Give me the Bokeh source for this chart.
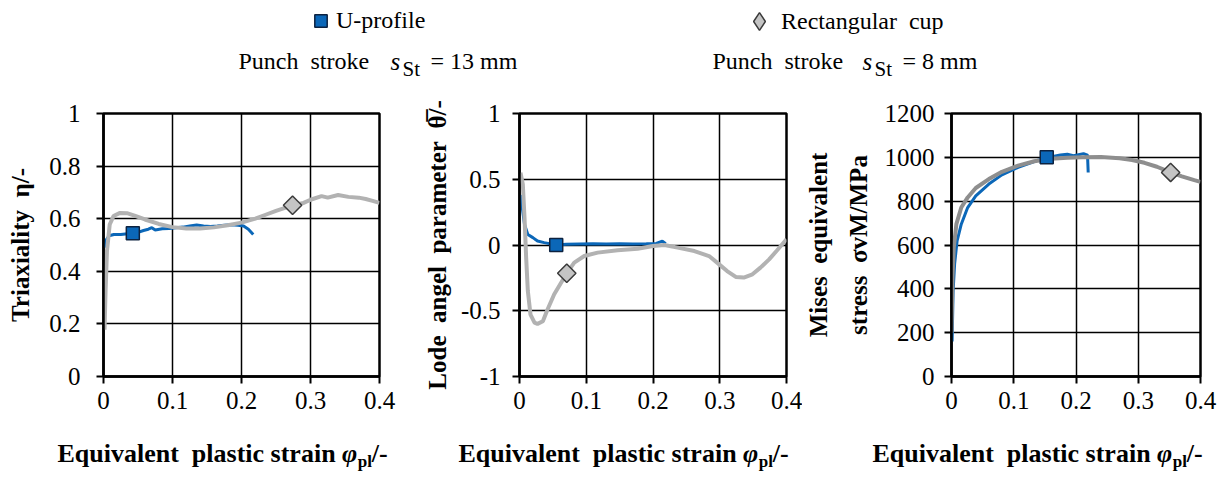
import math
from bokeh.plotting import figure
from bokeh.models import Range1d, FixedTicker, Label, Legend, LegendItem
from bokeh.layouts import column, row
from bokeh.embed import file_html
from bokeh.resources import INLINE

FONT = "Liberation Serif"
BLUE = "#0B67B8"
BLUE_EDGE = "#0D2240"
GRAY = "#B2B2B2"
GRAY_DARK = "#8E8E8E"
GRAY_FILL = "#C4C4C4"
GRAY_EDGE = "#3A3A3A"
NB = "\u00a0"

# ---------------- data ----------------
series_names = ["U-profile", "Rectangular" + NB + NB + "cup"]

x_ticks = [0, 0.1, 0.2, 0.3, 0.4]
x_tick_labels = ["0", "0.1", "0.2", "0.3", "0.4"]
eta_ticks = [0, 0.2, 0.4, 0.6, 0.8, 1]
eta_tick_labels = ["0", "0.2", "0.4", "0.6", "0.8", "1"]
lode_ticks = [-1, -0.5, 0, 0.5, 1]
lode_tick_labels = ["-1", "-0.5", "0", "0.5", "1"]
mises_ticks = [0, 200, 400, 600, 800, 1000, 1200]
mises_tick_labels = ["0", "200", "400", "600", "800", "1000", "1200"]

y_titles = ["Triaxiality" + NB + NB + "η/-",
            "Lode" + NB + NB + "angel" + NB + NB + "parameter" + NB + NB + "θ\u0305/-",
            "Mises" + NB + NB + "equivalent\nstress" + NB + NB + "σvM/MPa"]

# Triaxiality
u_eta_x = [0.002, 0.004, 0.008, 0.015, 0.025, 0.035, 0.0425, 0.05, 0.058, 0.065, 0.07, 0.075,
           0.085, 0.095, 0.105, 0.115, 0.125, 0.135, 0.145, 0.155, 0.165, 0.175, 0.185, 0.195,
           0.203, 0.21, 0.217]
u_eta_y = [0.49, 0.52, 0.535, 0.54, 0.54, 0.543, 0.545, 0.548, 0.555, 0.56, 0.566, 0.557,
           0.562, 0.563, 0.566, 0.568, 0.572, 0.576, 0.572, 0.57, 0.572, 0.575, 0.577, 0.575,
           0.572, 0.56, 0.54]
r_eta_x = [0.0015, 0.003, 0.005, 0.009, 0.0145, 0.024, 0.034, 0.045, 0.06, 0.08, 0.1, 0.12,
           0.14, 0.16, 0.18, 0.2, 0.22, 0.235, 0.25, 0.262, 0.274, 0.29, 0.3, 0.316, 0.325,
           0.34, 0.355, 0.37, 0.38, 0.39, 0.4]
r_eta_y = [0.178, 0.324, 0.476, 0.578, 0.61, 0.622, 0.621, 0.612, 0.597, 0.58, 0.568, 0.563,
           0.563, 0.567, 0.575, 0.585, 0.6, 0.615, 0.63, 0.64, 0.651, 0.66, 0.672, 0.686, 0.68,
           0.69, 0.683, 0.68, 0.675, 0.668, 0.66]

# Lode angle parameter
u_lode_x = [0.002, 0.005, 0.0075, 0.0125, 0.02, 0.027, 0.037, 0.055, 0.07, 0.09, 0.11, 0.13,
            0.15, 0.17, 0.19, 0.205, 0.214, 0.219]
u_lode_y = [0.38, 0.25, 0.157, 0.08, 0.056, 0.03, 0.018, 0.0, 0.005, 0.008, 0.01, 0.008,
            0.01, 0.008, 0.01, 0.012, 0.03, 0.01]
r_lode_x = [0.0015, 0.005, 0.0075, 0.01, 0.0125, 0.0165, 0.0225, 0.027, 0.035, 0.042, 0.052,
            0.0708, 0.082, 0.097, 0.117, 0.147, 0.177, 0.2, 0.217, 0.237, 0.262, 0.284, 0.296,
            0.311, 0.324, 0.336, 0.349, 0.361, 0.374, 0.386, 0.4]
r_lode_y = [0.55, 0.46, 0.21, -0.1, -0.35, -0.53, -0.59, -0.6, -0.58, -0.49, -0.375, -0.215,
            -0.134, -0.084, -0.058, -0.04, -0.028, -0.008, 0.0, -0.02, -0.046, -0.084, -0.134,
            -0.198, -0.243, -0.248, -0.223, -0.172, -0.109, -0.04, 0.043]

# Mises equivalent stress
u_mises_x = [0.001, 0.0026, 0.005, 0.009, 0.0157, 0.026, 0.039, 0.06, 0.081, 0.107, 0.133,
             0.153, 0.165, 0.175, 0.186, 0.196, 0.204, 0.212, 0.2185, 0.2196]
u_mises_y = [160, 391, 513, 619, 695, 771, 824, 878, 920, 954, 981, 1000, 1005, 1011, 1014,
             1007, 1012, 1017, 1010, 931]
r_mises_x = [0.0, 0.0016, 0.0037, 0.0078, 0.0157, 0.026, 0.039, 0.06, 0.081, 0.107, 0.133,
             0.16, 0.186, 0.21, 0.24, 0.27, 0.29, 0.31, 0.33, 0.352, 0.37, 0.39, 0.4]
r_mises_y = [200, 452, 589, 695, 771, 817, 860, 901, 934, 962, 982, 993, 998, 1000, 1001, 996,
             988, 975, 957, 931, 913, 896, 888]

# index of the single marker shown on each curve
u_marker_idx = {"eta": 6, "lode": 7, "mises": 11}
r_marker_idx = {"eta": 20, "lode": 11, "mises": 19}

# ---------------- text width helper (Times / Liberation Serif metrics) ----------------
W_REG = {" ": 250, NB: 250, "P": 556, "u": 500, "n": 500, "c": 444, "h": 500, "s": 389,
         "t": 278, "r": 333, "o": 500, "k": 500, "e": 444, "=": 564, "m": 778, "S": 556}
W_BOLD = {" ": 250, NB: 250, "-": 333, "/": 278, "E": 667, "L": 667, "M": 944, "P": 611,
          "T": 667, "a": 500, "c": 444, "d": 556, "e": 444, "g": 500, "i": 278, "l": 278,
          "m": 833, "n": 556, "o": 500, "p": 556, "q": 556, "r": 444, "s": 389, "t": 333,
          "u": 556, "v": 500, "x": 500, "y": 500}
W_BI = {"φ": 600, "η": 556, "θ": 500, "σ": 556}
MID = 0.3375   # distance baseline -> middle of the text box, in em


def tw(text, size, style):
    table = {"normal": W_REG, "italic": W_REG, "bold": W_BOLD, "bold italic": W_BI}[style]
    return sum(table.get(c, 500) for c in text) * size / 1000.0


def put(fig, x, y_base, text, style, size):
    """Label whose alphabetic baseline sits at y_base (screen units, from the bottom)."""
    fig.add_layout(Label(x=x, y=y_base + MID * size, x_units="screen", y_units="screen",
                         text=text, text_font=FONT, text_font_size=f"{size}px",
                         text_font_style=style, text_align="left", text_baseline="middle",
                         text_color="black"))


def rich(fig, segs, x, y_base):
    pos = 0.0
    for text, style, size, dy in segs:
        put(fig, x + pos, y_base - dy, text, style, size)
        pos += tw(text, size, style)


def blank(w, h):
    f = figure(width=w, height=h, x_range=Range1d(0, 1), y_range=Range1d(0, 1),
               toolbar_location=None, output_backend="svg", x_axis_type=None,
               y_axis_type=None, min_border=0, outline_line_color=None)
    f.grid.visible = False
    return f


ROW_H = 330


def panel(width, bl, br, yr, yticks, ylabels, ytitle, y_standoff, tick_standoff):
    p = figure(width=width, height=ROW_H, x_range=Range1d(0, 0.4), y_range=Range1d(*yr),
               toolbar_location=None, output_backend="svg",
               min_border_left=bl, min_border_right=br, min_border_top=23, min_border_bottom=44,
               background_fill_color="white", border_fill_color="white",
               outline_line_color="black", outline_line_width=2.5)
    p.xaxis.ticker = FixedTicker(ticks=x_ticks)
    p.xaxis.major_label_overrides = dict(zip(x_ticks, x_tick_labels))
    p.yaxis.ticker = FixedTicker(ticks=yticks)
    p.yaxis.major_label_overrides = dict(zip(yticks, ylabels))
    for ax in (p.xaxis[0], p.yaxis[0]):
        ax.axis_line_color = "black"
        ax.axis_line_width = 2.5
        ax.major_tick_line_color = "black"
        ax.major_tick_line_width = 2
        ax.major_tick_in = 0
        ax.major_tick_out = 7
        ax.minor_tick_line_color = None
        ax.major_label_text_font = FONT
        ax.major_label_text_font_size = "25px"
        ax.major_label_text_color = "black"
    p.xaxis.major_label_standoff = 8
    p.yaxis.major_label_standoff = tick_standoff
    ya = p.yaxis[0]
    ya.axis_label = ytitle
    ya.axis_label_text_font = FONT
    ya.axis_label_text_font_size = "25px"
    ya.axis_label_text_font_style = "bold"
    ya.axis_label_text_color = "black"
    ya.axis_label_text_line_height = 1.45
    ya.axis_label_standoff = y_standoff
    p.grid.grid_line_color = "black"
    p.grid.grid_line_width = 1.5
    return p


def draw(p, ux, uy, rx, ry, key, gray):
    p.line(ux, uy, line_color=BLUE, line_width=3)
    p.line(rx, ry, line_color=gray, line_width=4)
    i = u_marker_idx[key]
    p.scatter([ux[i]], [uy[i]], marker="square", size=13, fill_color=BLUE,
              line_color=BLUE_EDGE, line_width=1.5)
    j = r_marker_idx[key]
    p.scatter([rx[j]], [ry[j]], marker="square", angle=math.pi / 4, size=13,
              fill_color=GRAY_FILL, line_color=GRAY_EDGE, line_width=1.5)


# ---------------- header (legend + subtitles) ----------------
HDR_H = 90
hdr = blank(1226, HDR_H)
iu, ir = u_marker_idx["eta"], r_marker_idx["eta"]
r_u = hdr.scatter(x=[u_eta_x[iu]], y=[u_eta_y[iu]], marker="square", size=13,
                  fill_color=BLUE, line_color=BLUE_EDGE, line_width=1.5, visible=False)
r_r = hdr.scatter(x=[r_eta_x[ir]], y=[r_eta_y[ir]], marker="diamond", size=19,
                  fill_color=GRAY_FILL, line_color=GRAY_EDGE, line_width=1.5, visible=False)
# legend swatch size = 0.4 * glyph box
for rend, name, loc, gbox in ((r_u, series_names[0], (305, 54), 31),
                              (r_r, series_names[1], (737, 47), 44)):
    lg = Legend(items=[LegendItem(label=name, renderers=[rend])], location=loc,
                orientation="horizontal", padding=0, margin=0, spacing=0,
                border_line_color=None, background_fill_alpha=0, click_policy="none",
                label_text_font=FONT, label_text_font_size="24px", label_text_color="black",
                glyph_width=gbox, glyph_height=gbox, label_standoff=0)
    hdr.add_layout(lg)

for px, (s_x, st_x, eq_x), eq in ((238, (390, 402, 430), "=" + NB + "13" + NB + "mm"),
                                  (712, (862, 874, 902), "=" + NB + "8" + NB + "mm")):
    put(hdr, px, HDR_H - 69, "Punch" + NB + NB + "stroke", "normal", 24)
    put(hdr, s_x, HDR_H - 69, "s", "italic", 25)
    put(hdr, st_x, HDR_H - 76, "St", "normal", 21)
    put(hdr, eq_x, HDR_H - 69, eq, "normal", 24)

# ---------------- panels ----------------
p1 = panel(420, 103, 41, (0, 1), eta_ticks, eta_tick_labels, y_titles[0], 12, 16)
draw(p1, u_eta_x, u_eta_y, r_eta_x, r_eta_y, "eta", GRAY)

p2 = panel(382, 98, 16, (-1, 1), lode_ticks, lode_tick_labels, y_titles[1], 7, 12)
draw(p2, u_lode_x, u_lode_y, r_lode_x, r_lode_y, "lode", GRAY)

p3 = panel(424, 143, 26, (0, 1200), mises_ticks, mises_tick_labels, y_titles[2], 10, 10)
draw(p3, u_mises_x, u_mises_y, r_mises_x, r_mises_y, "mises", GRAY_DARK)

# ---------------- x-axis titles ----------------
FTR_H = 57
ftr = blank(1226, FTR_H)
for sx in (57, 458, 872):
    rich(ftr, [("Equivalent" + NB + NB + "plastic strain ", "bold", 26, 0),
               ("φ", "bold italic", 26, 0), ("pl", "bold", 17, 5), ("/-", "bold", 26, 0)],
         sx, FTR_H - (462 - 420))

layout = column(hdr, row(p1, p2, p3), ftr)
open("out.html", "w").write(file_html(layout, INLINE))
